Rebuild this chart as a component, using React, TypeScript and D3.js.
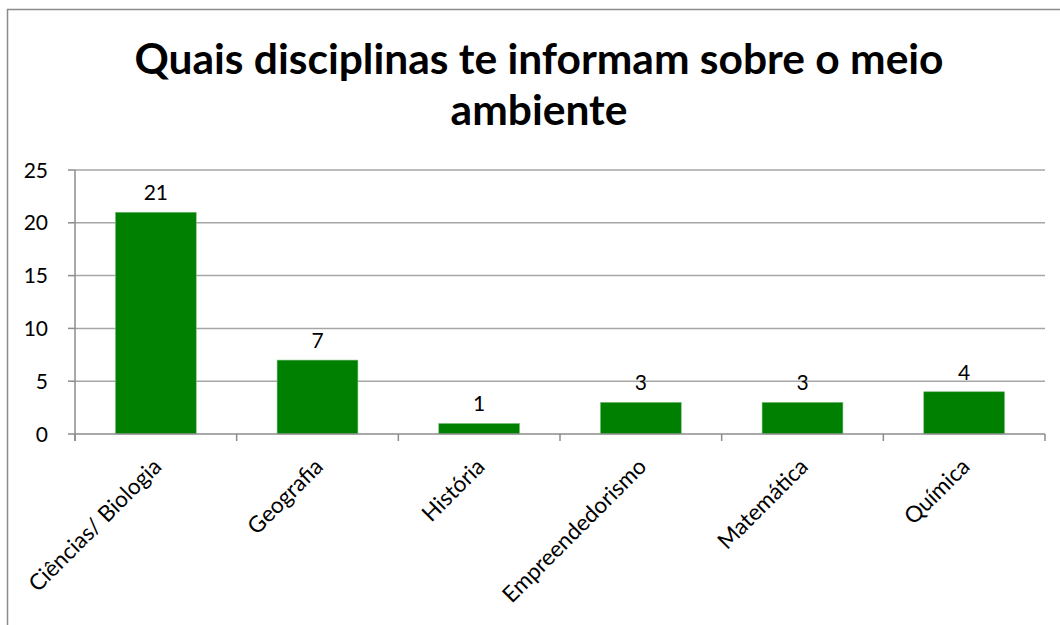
import React from "react";
import * as d3 from "d3";

const categories = ["Ciências/ Biologia", "Geografia", "História", "Empreendedorismo", "Matemática", "Química"];
const values = [21, 7, 1, 3, 3, 4];
const yTicks = [0, 5, 10, 15, 20, 25];
const titleLines = ["Quais disciplinas te informam sobre o meio", "ambiente"];

const W = 1060, H = 625;
const left = 75, right = 1045, top = 170, bottom = 434;
const FONT = "Lato, 'Open Sans', sans-serif";

export default function App() {
  const x = d3.scaleBand<string>().domain(categories).range([left, right]).paddingInner(0.5).paddingOuter(0.25);
  const xb = d3.scaleBand<string>().domain(categories).range([left, right]);
  const y = d3.scaleLinear().domain([0, 25]).range([bottom, top]);
  return (
    <svg width={W} height={H} style={{ position: "absolute", left: 0, top: 0, background: "#fff" }}>
      <rect x={7.5} y={9.5} width={W + 10} height={H + 10} fill="#fff" stroke="#8c8c8c" strokeWidth={1.5} />
      {titleLines.map((t, i) => (
        <text key={i} x={539} y={74 + i * 51} textAnchor="middle" fontFamily={FONT} fontWeight={700} fontSize={42.5} fill="#000">{t}</text>
      ))}
      {yTicks.map(t => (
        <g key={t}>
          {t > 0 && <line x1={left} x2={right} y1={y(t)} y2={y(t)} stroke="#a6a6a6" strokeWidth={1.5} />}
          <line x1={left - 7} x2={left} y1={y(t)} y2={y(t)} stroke="#8c8c8c" strokeWidth={1.5} />
          <text x={48} y={y(t) + 7.5} textAnchor="end" fontFamily={FONT} fontSize={21} fill="#000">{t}</text>
        </g>
      ))}
      {categories.map((c, i) => (
        <g key={c}>
          <rect x={x(c)} y={y(values[i])} width={x.bandwidth()} height={y(0) - y(values[i])} fill="#008000" stroke="#7ec17e" strokeWidth={0.6} />
          <text x={x(c)! + x.bandwidth() / 2} y={y(values[i]) - 12} textAnchor="middle" fontFamily={FONT} fontSize={21} fill="#000">{values[i]}</text>
          <text transform={`translate(${xb(c)! + xb.bandwidth() / 2 + 7},${468}) rotate(-45)`} textAnchor="end" fontFamily={FONT} fontSize={22.5} fill="#000">{c}</text>
        </g>
      ))}
      {d3.range(categories.length + 1).map(i => {
        const xx = left + i * xb.bandwidth();
        return <line key={i} x1={xx} x2={xx} y1={bottom} y2={bottom + 7} stroke="#8c8c8c" strokeWidth={1.5} />;
      })}
      <line x1={left} x2={left} y1={top} y2={bottom + 7} stroke="#8c8c8c" strokeWidth={1.5} />
      <line x1={left} x2={right} y1={bottom} y2={bottom} stroke="#8c8c8c" strokeWidth={1.5} />
    </svg>
  );
}
